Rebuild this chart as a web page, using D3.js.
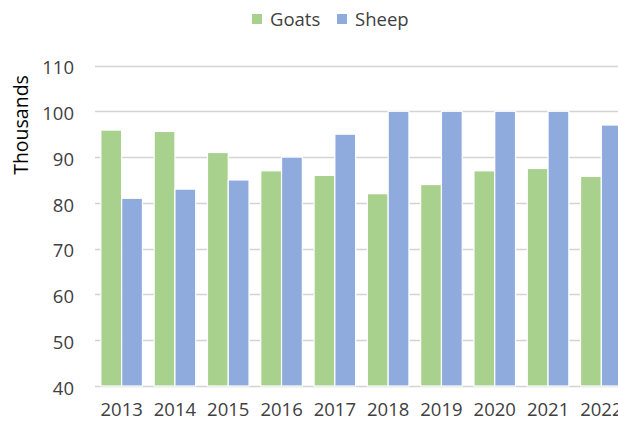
<!DOCTYPE html>
<html><head><meta charset="utf-8">
<script src="https://cdn.jsdelivr.net/npm/d3@7"></script>
<style>html,body{margin:0;padding:0;background:#fff;overflow:hidden}</style>
</head><body>
<script>
const years = ["2013","2014","2015","2016","2017","2018","2019","2020","2021","2022"];
const goats = [95.9, 95.6, 91, 87, 86, 82, 84, 87, 87.5, 85.8];
const sheep = [81, 83, 85, 90, 95, 100, 100, 100, 100, 97];
const seriesNames = ["Goats","Sheep"];
const yTicks = [40,50,60,70,80,90,100,110];

const W = 618, H = 421;
const colors = {Goats:"#A9D18E", Sheep:"#8FAADC"};
const font = "'Open Sans', sans-serif";
const textColor = "#404040";

const svg = d3.select("body").append("svg").attr("width", W).attr("height", H);

const left = 95, step = 53.3;
const x = d3.scaleBand().domain(years).range([left, left + step*years.length]).paddingInner(0.22).paddingOuter(0.11);
const xs = d3.scaleBand().domain(seriesNames).range([0, x.bandwidth()]).padding(0);
const y = d3.scaleLinear().domain([40,110]).range([386, 65.5]);

// gridlines
svg.append("g").selectAll("line").data(yTicks).join("line")
  .attr("x1", left).attr("x2", W)
  .attr("y1", d => Math.round(y(d)) + 0.5).attr("y2", d => Math.round(y(d)) + 0.5)
  .attr("stroke", "#d4d4d4").attr("stroke-width", 1.4);

// bars
const data = years.map((yr,i) => ({yr, vals:[{s:"Goats", v:goats[i]},{s:"Sheep", v:sheep[i]}]}));
const g = svg.append("g").selectAll("g").data(data).join("g")
  .attr("transform", d => `translate(${x(d.yr)},0)`);
g.selectAll("rect").data(d => d.vals).join("rect")
  .attr("x", d => xs(d.s)).attr("width", xs.bandwidth())
  .attr("y", d => y(d.v)).attr("height", d => y(40) - y(d.v))
  .attr("fill", d => colors[d.s]).attr("stroke", "#fff").attr("stroke-width", 1.2);

// y axis labels
const yAxis = d3.axisLeft(y).tickValues(yTicks).tickSize(0).tickPadding(0);
const ya = svg.append("g").attr("transform", "translate(74,1.5)").call(yAxis);
ya.select(".domain").remove();
ya.selectAll("text").attr("font-family", font).attr("font-size", 18.5).attr("fill", textColor).attr("dy", "0.36em");

// x axis labels
const xAxis = d3.axisBottom(x).tickSize(0).tickPadding(0);
const xa = svg.append("g").attr("transform", "translate(0,403)").call(xAxis);
xa.select(".domain").remove();
xa.selectAll("text").attr("font-family", font).attr("font-size", 18.5).attr("fill", textColor).attr("dy", "0.72em");

// y title
svg.append("text").attr("transform", "translate(28,125) rotate(-90)")
  .attr("text-anchor", "middle").attr("font-family", font).attr("font-size", 19.5)
  .attr("fill", "#000").text("Thousands");

// legend
const legX = [252, 337];
const lg = svg.append("g").selectAll("g").data(seriesNames).join("g")
  .attr("transform", (d,i) => `translate(${legX[i]},14)`);
lg.append("rect").attr("width", 10).attr("height", 10).attr("fill", d => colors[d]);
lg.append("text").attr("x", 18).attr("y", 11.5).attr("font-family", font).attr("font-size", 18.5)
  .attr("fill", textColor).text(d => d);
</script>
</body></html>
